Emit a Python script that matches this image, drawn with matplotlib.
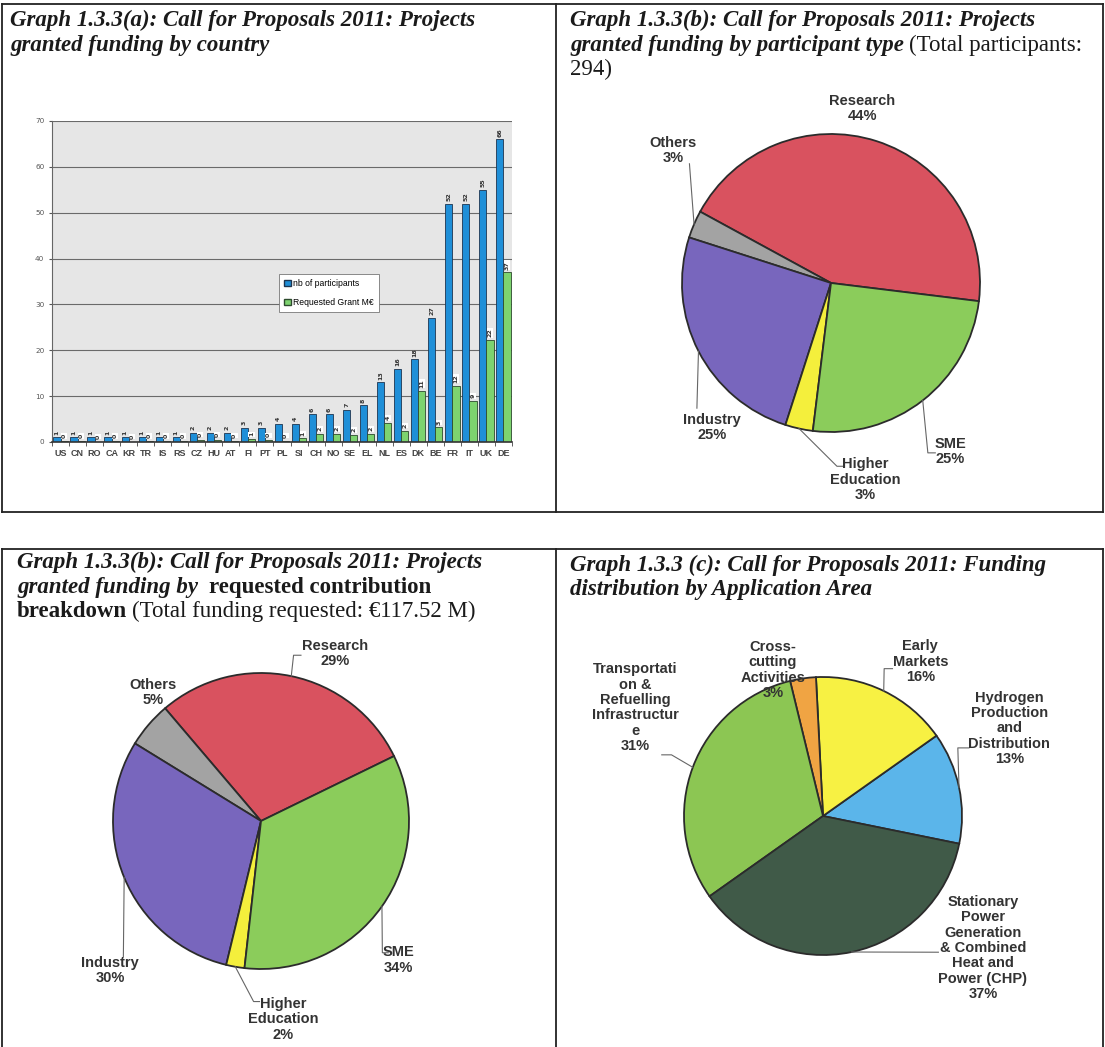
import numpy as np
import matplotlib.pyplot as plt
from matplotlib.patches import Patch

W, H = 1105, 1047

# --- data ---
countries = ["US", "CN", "RO", "CA", "KR", "TR", "IS", "RS", "CZ", "HU", "AT", "FI", "PT", "PL",
             "SI", "CH", "NO", "SE", "EL", "NL", "ES", "DK", "BE", "FR", "IT", "UK", "DE"]
participants = [1, 1, 1, 1, 1, 1, 1, 1, 2, 2, 2, 3, 3, 4, 4, 6, 6, 7, 8, 13, 16, 18, 27, 52, 52, 55, 66]
grant_meur = [0.2, 0.2, 0.1, 0.2, 0.1, 0.2, 0.2, 0.2, 0.5, 0.5, 0.3, 0.6, 0.4, 0.3, 0.8, 1.8, 1.8,
              1.5, 1.7, 4.2, 2.5, 11.2, 3.2, 12.3, 9.0, 22.2, 37.0]

type_names = ["Research", "Others", "Industry", "Higher\nEducation", "SME"]
type_pct_participants = [44, 3, 25, 3, 25]
type_pct_funding = [29, 5, 30, 2, 34]
type_colors = ["#d9525f", "#a3a3a3", "#7866bd", "#f4ef3c", "#8bcc5b"]

area_names = ["Hydrogen\nProduction\nand\nDistribution", "Early\nMarkets", "Cross-\ncutting\nActivities",
              "Transportati\non &\nRefuelling\nInfrastructur\ne",
              "Stationary\nPower\nGeneration\n& Combined\nHeat and\nPower (CHP)"]
area_pct = [13, 16, 3, 31, 37]
area_colors = ["#5bb5ea", "#f7f143", "#f0a443", "#8cc653", "#405a48"]

fig = plt.figure(figsize=(W / 100, H / 100), dpi=100)
renderer = fig.canvas.get_renderer()

# panel frames
def hline(x0, x1, y):
    fig.add_artist(plt.Line2D([x0 / W, x1 / W], [1 - y / H, 1 - y / H], color="#222", lw=1.3))

def vline(x, y0, y1):
    fig.add_artist(plt.Line2D([x / W, x / W], [1 - y0 / H, 1 - y1 / H], color="#222", lw=1.3))

hline(2, 1103, 4); hline(2, 1103, 512); vline(2, 4, 512); vline(556, 4, 512); vline(1103, 4, 512)
hline(2, 1103, 549); vline(2, 549, 1047); vline(556, 549, 1047); vline(1103, 549, 1047)

# titles (mixed styles, placed piece by piece)
BI = ("bold", "italic")
B = ("bold", "normal")
R = ("normal", "normal")

def title(x, y0, lines):
    for i, parts in enumerate(lines):
        xx = x
        for txt, (wt, st) in parts:
            t = fig.text(xx / W, 1 - (y0 + i * 24.5) / H, txt, fontsize=16.5, family="Liberation Serif",
                         weight=wt, style=st, va="baseline", color="#1a1a1a")
            xx += t.get_window_extent(renderer).width + 5

title(10, 26, [[("Graph 1.3.3(a): Call for Proposals 2011: Projects", BI)],
               [("granted funding by country", BI)]])
title(570, 26, [[("Graph 1.3.3(b): Call for Proposals 2011: Projects", BI)],
                [("granted funding by participant type", BI), ("(Total participants:", R)],
                [("294)", R)]])
title(17, 568, [[("Graph 1.3.3(b): Call for Proposals 2011: Projects", BI)],
                [("granted funding by ", BI), ("requested contribution", B)],
                [("breakdown", B), ("(Total funding requested: \u20ac117.52 M)", R)]])
title(570, 571, [[("Graph 1.3.3 (c): Call for Proposals 2011: Funding", BI)],
                 [("distribution by Application Area", BI)]])

# --- bar chart by country ---
ax = fig.add_axes([52 / W, 1 - 442 / H, 460 / W, 321 / H])
ax.set_facecolor("#e6e6e6")
x = np.arange(len(countries))
b1 = ax.bar(x - 0.21, participants, 0.42, color="#1f8fd8", edgecolor="#1d3550", lw=0.6,
            label="nb of participants")
b2 = ax.bar(x + 0.21, grant_meur, 0.42, color="#7dd36f", edgecolor="#2d4a2d", lw=0.6,
            label="Requested Grant M\u20ac")
ax.bar_label(b1, labels=[str(v) for v in participants], rotation=90, fontsize=4.5,
             fontweight="bold", color="#333", padding=2)
ax.bar_label(b2, labels=[str(round(v)) for v in grant_meur], rotation=90, fontsize=4.5,
             fontweight="bold", color="#333", padding=2,
             bbox=dict(fc="white", ec="none", pad=0.4))
ax.set_xlim(-0.5, len(countries) - 0.5)
ax.set_ylim(0, 70)
ax.set_yticks(range(0, 71, 10))
ax.yaxis.grid(True, color="#6a6a6a", lw=0.8)
ax.set_axisbelow(True)
ax.set_xticks(x)
ax.set_xticklabels(countries, fontsize=6.5, fontweight="bold", color="#444", family="Liberation Sans")
ax.set_xticks(np.arange(-0.5, len(countries)), minor=True)
ax.tick_params(axis="x", which="major", length=0, pad=5)
ax.tick_params(axis="x", which="minor", length=3, color="#444")
ax.tick_params(axis="y", length=2, labelsize=5.2, labelcolor="#555", color="#555")
for s in ["top", "right"]:
    ax.spines[s].set_visible(False)
ax.spines["left"].set_color("#666")
ax.spines["bottom"].set_color("#333")
ax.spines["bottom"].set_linewidth(1.2)
leg = ax.legend(handles=[Patch(color="#1f8fd8", ec="#1d3550"), Patch(color="#7dd36f", ec="#2d4a2d")],
                labels=["nb of participants", "Requested Grant M\u20ac"],
                loc="upper left", bbox_to_anchor=((275 - 52) / 460, (442 - 270) / 321),
                handlelength=0.7, handleheight=0.7, handletextpad=0.3,
                labelspacing=1.1, borderpad=0.6, fancybox=False, framealpha=1,
                edgecolor="#777", prop={"family": "Liberation Sans", "size": 6.2})
leg.get_frame().set_linewidth(0.6)


# --- pies ---
def pie_axes(cx, cy, r, s=260):
    a = fig.add_axes([(cx - s) / W, 1 - (cy + s) / H, 2 * s / W, 2 * s / H])
    return a, s / r

def draw_pie(cx, cy, r, values, names, colors, start, label_xy, leaders):
    a, lim = pie_axes(cx, cy, r)
    wedges, _ = a.pie(values, colors=colors, startangle=start, radius=1,
                      wedgeprops=dict(edgecolor="#2b2b2b", linewidth=1.3))
    a.set_xlim(-lim, lim)
    a.set_ylim(-lim, lim)
    a.axis("off")
    for w, name, v, (lx, ly), pts in zip(wedges, names, values, label_xy, leaders):
        a.text(lx, ly, f"{name}\n{v}%", ha="center", va="center", fontsize=10.5,
               fontweight="bold", family="Liberation Sans", color="#333", linespacing=1.12)
        if pts:
            th = np.deg2rad((w.theta1 + w.theta2) / 2)
            xs = [np.cos(th)] + [p[0] for p in pts]
            ys = [np.sin(th)] + [p[1] for p in pts]
            a.plot(xs, ys, color="#666", lw=0.8)

draw_pie(831, 283, 149, type_pct_participants, type_names, type_colors, -7,
         [(0.21, 1.17), (-1.06, 0.89), (-0.80, -0.97), (0.23, -1.32), (0.80, -1.13)],
         [None, [(-0.95, 0.80)], [(-0.90, -0.84)], [(0.04, -1.23), (0.08, -1.23)],
          [(0.65, -1.14), (0.70, -1.14)]])

draw_pie(261, 821, 148, type_pct_funding, type_names, type_colors, 26,
         [(0.50, 1.13), (-0.73, 0.87), (-1.02, -1.01), (0.15, -1.34), (0.93, -0.94)],
         [[(0.22, 1.12), (0.27, 1.12)], None, [(-0.93, -0.92)],
          [(-0.05, -1.22), (-0.01, -1.22)], [(0.82, -0.89), (0.86, -0.89)]])

draw_pie(823, 816, 139, area_pct, area_names, area_colors, -11.5,
         [(1.34, 0.63), (0.70, 1.11), (-0.36, 1.05), (-1.35, 0.78), (1.15, -0.95)],
         [[(0.97, 0.49), (1.05, 0.49)], [(0.44, 1.06), (0.50, 1.06)], None,
          [(-1.09, 0.44), (-1.16, 0.44)], [(0.83, -0.98)]])

fig.savefig("out.png", dpi=100)
